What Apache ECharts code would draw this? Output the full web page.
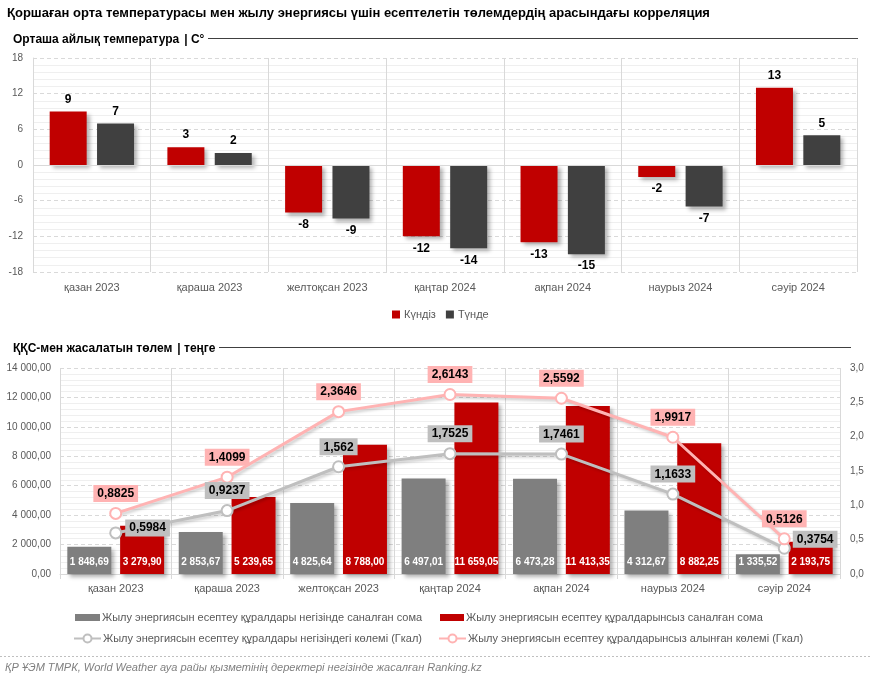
<!DOCTYPE html>
<html><head><meta charset="utf-8">
<script src="https://cdn.jsdelivr.net/npm/echarts@6/dist/echarts.min.js"></script>
<style>html,body{margin:0;padding:0;background:#fff}#c{width:872px;height:680px}</style>
</head><body><div id="c"></div>
<script>
const categories = ['қазан 2023','қараша 2023','желтоқсан 2023','қаңтар 2024','ақпан 2024','наурыз 2024','сәуір 2024'];
const tempDay = [9, 3, -8, -12, -13, -2, 13];
const tempNight = [7, 2, -9, -14, -15, -7, 5];
const payWithMeter = [1848.69, 2853.67, 4825.64, 6497.01, 6473.28, 4312.67, 1335.52];
const payWithoutMeter = [3279.90, 5239.65, 8788.00, 11659.05, 11413.35, 8882.25, 2193.75];
const volWithMeter = [0.5984, 0.9237, 1.562, 1.7525, 1.7461, 1.1633, 0.3754];
const volWithoutMeter = [0.8825, 1.4099, 2.3646, 2.6143, 2.5592, 1.9917, 0.5126];
const names = {
  day: 'Күндіз', night: 'Түнде',
  payW: 'Жылу энергиясын есептеу құралдары негізінде саналған сома',
  payWo: 'Жылу энергиясын есептеу құралдарынсыз саналған сома',
  volW: 'Жылу энергиясын есептеу құралдары негізіндегі көлемі (Гкал)',
  volWo: 'Жылу энергиясын есептеу құралдарынсыз алынған көлемі (Гкал)'
};

const FONT = '"Liberation Sans", Arial, sans-serif';
function fmtNum(v, d) {
  const s = v.toFixed(d).split('.');
  const i = s[0].replace(/\B(?=(\d{3})+(?!\d))/g, ' ');
  return d > 0 ? i + ',' + s[1] : i;
}
function fmtRaw(v) { return String(v).replace('.', ','); }

const chart = echarts.init(document.getElementById('c'), null, {renderer: 'canvas'});

const RED = '#c00000', DARK = '#404040', GREY = '#7f7f7f', LGREY = '#bfbfbf', PINK = '#ffb3b3';
const barShadow = {shadowBlur: 4, shadowOffsetX: 3, shadowOffsetY: 3, shadowColor: 'rgba(0,0,0,0.3)'};

function tempData(arr) {
  return arr.map(v => ({value: v, label: {position: v < 0 ? 'bottom' : 'top'}}));
}

const lastIdx = volWithMeter.length - 1;
const greyLabelCfg = volWithMeter.map((v, i) =>
  i === 0 ? {position: 'right', distance: 3, offset: [0, -5]} :
  i === lastIdx ? {position: 'right', distance: 2, offset: [0, -9]} : {position: 'top'});

const legendText = {fontSize: 11, color: '#595959', padding: [0, 0, 0, -3], fontFamily: FONT};

const option = {
  animation: false,
  textStyle: {fontFamily: FONT},
  title: [
    {text: 'Қоршаған орта температурасы мен жылу энергиясы үшін есептелетін төлемдердің арасындағы корреляция',
     left: 7, top: 7, padding: 0, textStyle: {fontSize: 13, fontWeight: 'bold', color: '#000', fontFamily: FONT}},
    {text: '{b|Орташа айлық температура} {n|| С°}', left: 13, top: 31, padding: 0,
     textStyle: {rich: {b: {fontSize: 12, fontWeight: 'bold', color: '#000', fontFamily: FONT}, n: {fontSize: 12, color: '#000', fontFamily: FONT}}}},
    {text: '{b|ҚҚС-мен жасалатын төлем} {n|| теңге}', left: 13, top: 340, padding: 0,
     textStyle: {rich: {b: {fontSize: 12, fontWeight: 'bold', color: '#000', fontFamily: FONT}, n: {fontSize: 12, color: '#000', fontFamily: FONT}}}},
    {text: 'ҚР ҰЭМ ТМРК, World Weather ауа райы қызметінің деректері негізінде жасалған Ranking.kz',
     left: 5, top: 662, padding: 0, textStyle: {fontSize: 11, fontStyle: 'italic', fontWeight: 'normal', color: '#7f7f7f', fontFamily: FONT}}
  ],
  graphic: [
    {type: 'line', shape: {x1: 208, y1: 38.5, x2: 858, y2: 38.5}, style: {stroke: '#404040', lineWidth: 1}},
    {type: 'line', shape: {x1: 219, y1: 347.5, x2: 851, y2: 347.5}, style: {stroke: '#404040', lineWidth: 1}},
    {type: 'line', shape: {x1: 0, y1: 656.5, x2: 872, y2: 656.5}, style: {stroke: '#bfbfbf', lineWidth: 1, lineDash: [2, 2]}}
  ],
  legend: [
    {data: [names.day, names.night], top: 309, left: 392, padding: 0, itemWidth: 8, itemHeight: 8, itemGap: 10,
     textStyle: Object.assign({}, legendText, {padding: [0, 0, 0, -1]}), icon: 'rect'},
    {data: [{name: names.payW, icon: 'rect'}], top: 612, left: 75, padding: 0, itemWidth: 25, itemHeight: 7, textStyle: legendText},
    {data: [{name: names.payWo, icon: 'rect'}], top: 612, left: 440, padding: 0, itemWidth: 24, itemHeight: 7, textStyle: legendText},
    {data: [names.volW], top: 633, left: 73, padding: 0, itemWidth: 27, itemHeight: 10, textStyle: legendText},
    {data: [names.volWo], top: 633, left: 438, padding: 0, itemWidth: 27, itemHeight: 10, textStyle: legendText}
  ],
  grid: [
    {left: 33, right: 15, top: 58, height: 214},
    {left: 60, right: 32, top: 368, height: 206}
  ],
  xAxis: [
    {type: 'category', gridIndex: 0, data: categories,
     axisLine: {show: false}, axisTick: {show: false},
     axisLabel: {fontSize: 11, color: '#595959', margin: 10},
     splitLine: {show: true, lineStyle: {color: '#d9d9d9', width: 1}}},
    {type: 'category', gridIndex: 1, data: categories,
     axisLine: {show: true, lineStyle: {color: '#d9d9d9'}},
     axisTick: {show: true, length: 5, lineStyle: {color: '#d9d9d9'}},
     axisLabel: {fontSize: 11, color: '#595959', margin: 9},
     splitLine: {show: true, lineStyle: {color: '#d9d9d9', width: 1}}}
  ],
  yAxis: [
    {type: 'value', gridIndex: 0, min: -18, max: 18, interval: 6,
     axisLine: {show: true, lineStyle: {color: '#d9d9d9'}}, axisTick: {show: false},
     axisLabel: {fontSize: 10, color: '#595959', margin: 10},
     splitLine: {lineStyle: {color: '#d9d9d9', type: [4, 3]}},
     minorTick: {show: false, splitNumber: 5},
     minorSplitLine: {show: true, lineStyle: {color: '#efefef'}}},
    {type: 'value', gridIndex: 1, min: 0, max: 14000, interval: 2000,
     axisLine: {show: false}, axisTick: {show: false},
     axisLabel: {fontSize: 10, color: '#595959', margin: 9, formatter: v => fmtNum(v, 2)},
     splitLine: {lineStyle: {color: '#d9d9d9', type: [4, 3]}},
     minorTick: {show: false, splitNumber: 5},
     minorSplitLine: {show: true, lineStyle: {color: '#efefef'}}},
    {type: 'value', gridIndex: 1, min: 0, max: 3, interval: 0.5, position: 'right',
     axisLine: {show: false}, axisTick: {show: false},
     axisLabel: {fontSize: 10, color: '#595959', margin: 10, formatter: v => fmtNum(v, 1)},
     splitLine: {show: false}}
  ],
  series: [
    {name: names.day, type: 'bar', xAxisIndex: 0, yAxisIndex: 0, data: tempData(tempDay),
     barWidth: 37, barGap: '28%', itemStyle: Object.assign({color: RED}, barShadow),
     label: {show: true, fontSize: 12, fontWeight: 'bold', color: '#000', distance: 6},
     markLine: {silent: true, symbol: 'none', label: {show: false}, lineStyle: {color: '#d9d9d9', type: 'solid', width: 1},
       data: [{yAxis: 0}]}},
    {name: names.night, type: 'bar', xAxisIndex: 0, yAxisIndex: 0, data: tempData(tempNight),
     barWidth: 37, barGap: '28%', itemStyle: Object.assign({color: DARK}, barShadow),
     label: {show: true, fontSize: 12, fontWeight: 'bold', color: '#000', distance: 6}},
    {name: names.payW, type: 'bar', xAxisIndex: 1, yAxisIndex: 1, data: payWithMeter,
     barWidth: 44, barGap: '20%', itemStyle: Object.assign({color: GREY}, barShadow),
     label: {show: true, position: 'insideBottom', distance: 7, color: '#fff', fontWeight: 'bold', fontSize: 10,
       formatter: p => fmtNum(p.value, 2)}},
    {name: names.payWo, type: 'bar', xAxisIndex: 1, yAxisIndex: 1, data: payWithoutMeter,
     barWidth: 44, barGap: '20%', itemStyle: Object.assign({color: RED}, barShadow),
     label: {show: true, position: 'insideBottom', distance: 7, color: '#fff', fontWeight: 'bold', fontSize: 10,
       formatter: p => fmtNum(p.value, 2)}},
    {name: names.volW, type: 'line', xAxisIndex: 1, yAxisIndex: 2,
     data: volWithMeter.map((v, i) => ({value: v, label: greyLabelCfg[i]})),
     symbol: 'circle', symbolSize: 11,
     lineStyle: {color: LGREY, width: 3, shadowBlur: 3, shadowOffsetX: 2, shadowOffsetY: 2, shadowColor: 'rgba(0,0,0,0.2)'},
     itemStyle: {color: '#fff', borderColor: LGREY, borderWidth: 2},
     label: {show: true, distance: 5, fontSize: 12, fontWeight: 'bold', color: '#000',
       backgroundColor: LGREY, padding: [3, 4, 2, 4], formatter: p => fmtRaw(p.value)}},
    {name: names.volWo, type: 'line', xAxisIndex: 1, yAxisIndex: 2,
     data: volWithoutMeter,
     symbol: 'circle', symbolSize: 11,
     lineStyle: {color: PINK, width: 3, shadowBlur: 3, shadowOffsetX: 2, shadowOffsetY: 2, shadowColor: 'rgba(0,0,0,0.2)'},
     itemStyle: {color: '#fff', borderColor: PINK, borderWidth: 2},
     label: {show: true, position: 'top', distance: 5, fontSize: 12, fontWeight: 'bold', color: '#000',
       backgroundColor: PINK, padding: [3, 4, 2, 4], formatter: p => fmtRaw(p.value)}}
  ]
};
chart.setOption(option);
</script></body></html>
